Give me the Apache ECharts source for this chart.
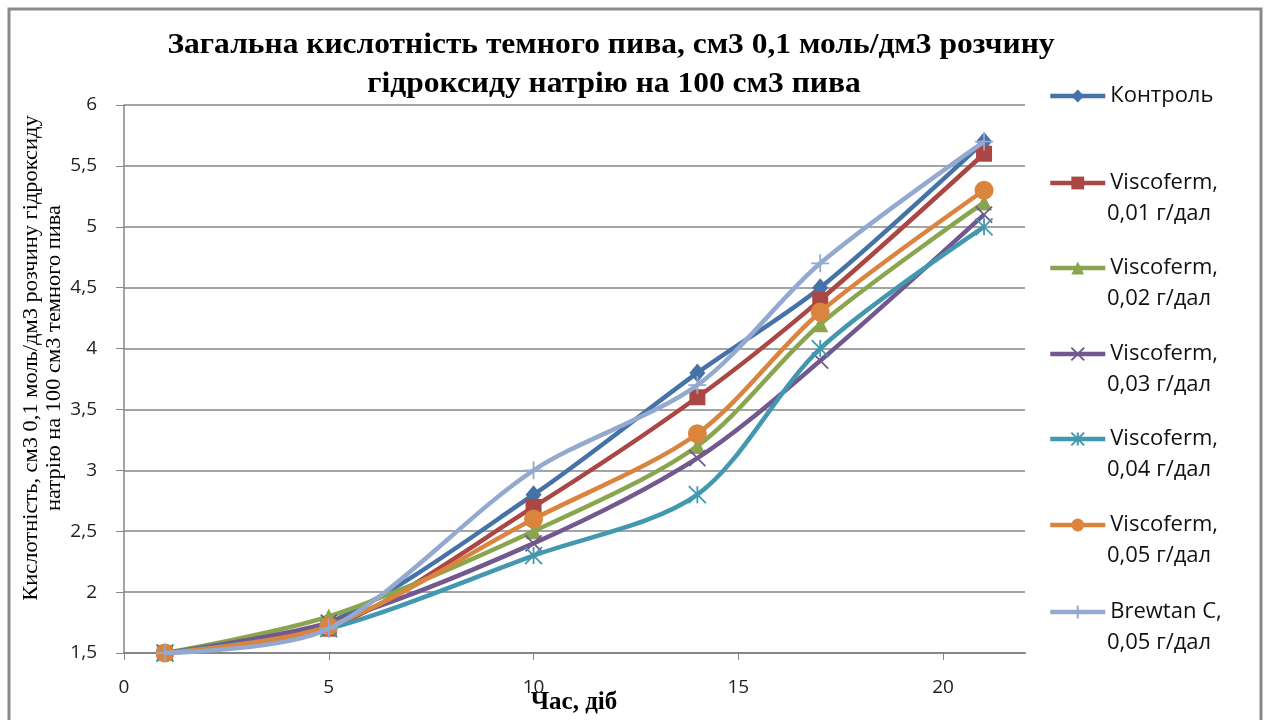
<!DOCTYPE html>
<html>
<head>
<meta charset="utf-8">
<script src="https://cdn.jsdelivr.net/npm/echarts@6/dist/echarts.min.js"></script>
<style>html,body{margin:0;padding:0;background:#fff}#c{width:1267px;height:720px}</style>
</head>
<body>
<div id="c"></div>
<script>
var days = [1, 5, 10, 14, 17, 21];
var seriesNames = ['Контроль', 'Viscoferm, 0,01 г/дал', 'Viscoferm, 0,02 г/дал', 'Viscoferm, 0,03 г/дал', 'Viscoferm, 0,04 г/дал', 'Viscoferm, 0,05 г/дал', 'Brewtan C, 0,05 г/дал'];
var control = [1.5, 1.75, 2.8, 3.8, 4.5, 5.7];
var visc001 = [1.5, 1.7, 2.7, 3.6, 4.4, 5.6];
var visc002 = [1.5, 1.8, 2.5, 3.2, 4.2, 5.2];
var visc003 = [1.5, 1.75, 2.4, 3.1, 3.9, 5.1];
var visc004 = [1.5, 1.7, 2.3, 2.8, 4.0, 5.0];
var visc005 = [1.5, 1.72, 2.6, 3.3, 4.3, 5.3];
var brewtan = [1.5, 1.7, 3.0, 3.7, 4.7, 5.7];
var yTicks = [1.5, 2, 2.5, 3, 3.5, 4, 4.5, 5, 5.5, 6];
var xTicks = [0, 5, 10, 15, 20];
var titleLines = ['Загальна кислотність темного пива, см3 0,1 моль/дм3 розчину', 'гідроксиду натрію на 100 см3 пива'];
var yTitleLines = ['Кислотність, см3 0,1 моль/дм3 розчину гідроксиду', 'натрію на 100 см3 темного пива'];
var xTitle = 'Час, діб';
var legendFirst = ['Контроль', 'Viscoferm,', 'Viscoferm,', 'Viscoferm,', 'Viscoferm,', 'Viscoferm,', 'Brewtan C,'];
var legendSecond = ['', '0,01 г/дал', '0,02 г/дал', '0,03 г/дал', '0,04 г/дал', '0,05 г/дал', '0,05 г/дал'];

var allValues = [control, visc001, visc002, visc003, visc004, visc005, brewtan];
var colors = ['#4572A7', '#AA4643', '#89A54E', '#71588F', '#4198AF', '#DB843D', '#93A9CF'];
var symbols = ['diamond', 'rect', 'triangle',
  'path://M0,0L10,10M10,0L0,10',
  'path://M0,0L10,10M10,0L0,10M5,0L5,10',
  'circle',
  'path://M5,0L5,10M0,5L10,5'];
var symSizes = [[16, 19], 16, 16, 16, 17, 19, 18];
var strokeSym = [false, false, false, true, true, false, true];

var legendTops = [96, 183, 268, 354, 439, 525, 612];
var legendGap2 = 31;

var series = allValues.map(function (vals, i) {
  return {
    name: seriesNames[i],
    type: 'line',
    smooth: 0.3,
    data: days.map(function (d, j) { return [d, vals[j]]; }),
    symbol: symbols[i],
    symbolSize: symSizes[i],
    lineStyle: { color: colors[i], width: 4.5 },
    itemStyle: strokeSym[i]
      ? { color: 'rgba(0,0,0,0)', borderColor: colors[i], borderWidth: 1.8 }
      : { color: colors[i], borderWidth: 0 },
    emphasis: { disabled: true },
    z: 2 + i
  };
});

var legends = seriesNames.map(function (n, i) {
  return {
    data: [n],
    left: 1048,
    top: legendTops[i] - 12,
    itemWidth: 55,
    itemHeight: 16,
    padding: 0,
    selectedMode: false,
    lineStyle: { width: 4.5 },
    formatter: function () { return legendFirst[i]; },
    textStyle: { fontFamily: 'Open Sans', fontSize: 22, color: '#111', lineHeight: 24 }
  };
});

var graphics = [
  { type: 'rect', shape: { x: 9, y: 9, width: 1252, height: 740 }, style: { fill: 'none', stroke: '#8a8a8a', lineWidth: 3 }, z: 0, silent: true },
  { type: 'text', x: 611, y: 45, scaleX: 1.05, style: { text: titleLines[0], font: 'bold 30px "Liberation Serif"', fill: '#000', align: 'center', verticalAlign: 'middle' } },
  { type: 'text', x: 614, y: 84, scaleX: 1.05, style: { text: titleLines[1], font: 'bold 30px "Liberation Serif"', fill: '#000', align: 'center', verticalAlign: 'middle' } },
  { type: 'text', x: 31, y: 358, rotation: Math.PI / 2, scaleX: 1.02, style: { text: yTitleLines[0], font: '22px "Liberation Serif"', fill: '#000', align: 'center', verticalAlign: 'middle' } },
  { type: 'text', x: 54, y: 358, rotation: Math.PI / 2, scaleX: 1.02, style: { text: yTitleLines[1], font: '22px "Liberation Serif"', fill: '#000', align: 'center', verticalAlign: 'middle' } },
  { type: 'text', x: 574, y: 703, scaleX: 1.0, style: { text: xTitle, font: 'bold 25px "Liberation Serif"', fill: '#000', align: 'center', verticalAlign: 'middle' } }
];
legendSecond.forEach(function (t, i) {
  if (t) {
    graphics.push({ type: 'text', x: 1107, y: legendTops[i] + legendGap2, style: { text: t, font: '22px "Open Sans"', fill: '#111', align: 'left', verticalAlign: 'middle' } });
  }
});

var chart = echarts.init(document.getElementById('c'), null, { renderer: 'canvas' });
chart.setOption({
  animation: false,
  backgroundColor: '#fff',
  color: colors,
  grid: { left: 124, right: 242, top: 105, bottom: 67, containLabel: false },
  legend: legends,
  xAxis: {
    type: 'value', min: 0, max: 22, interval: 5,
    axisLine: { show: true, onZero: false, lineStyle: { color: '#868686', width: 2 } },
    axisTick: { show: true, length: 7, lineStyle: { color: '#868686' } },
    splitLine: { show: false },
    axisLabel: {
      fontFamily: 'Open Sans', fontSize: 19, color: '#222', margin: 25, showMaxLabel: false,
      formatter: function (v) { return xTicks.indexOf(v) >= 0 ? String(v) : ''; }
    }
  },
  yAxis: {
    type: 'value', min: 1.5, max: 6, interval: 0.5,
    axisLine: { show: true, lineStyle: { color: '#868686', width: 1.5 } },
    axisTick: { show: true, length: 8, lineStyle: { color: '#868686' } },
    splitLine: { show: true, lineStyle: { color: '#868686', width: 1.5 } },
    axisLabel: {
      fontFamily: 'Open Sans', fontSize: 19, color: '#222', margin: 27,
      formatter: function (v) { return yTicks.indexOf(v) >= 0 ? String(v).replace('.', ',') : ''; }
    }
  },
  graphic: graphics,
  series: series
});
</script>
</body>
</html>
